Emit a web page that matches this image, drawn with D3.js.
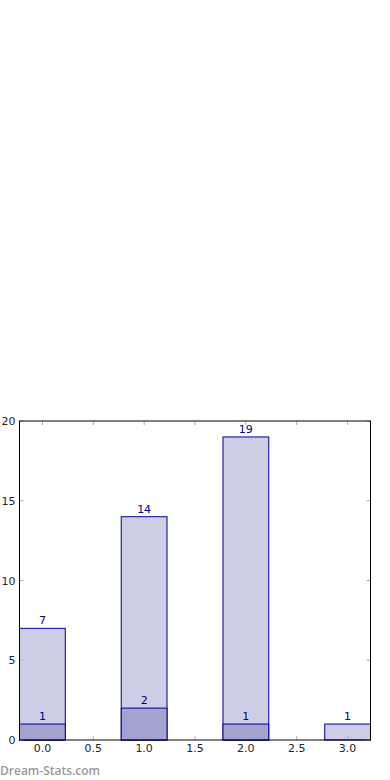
<!DOCTYPE html>
<html>
<head>
<meta charset="utf-8">
<script src="https://cdn.jsdelivr.net/npm/d3@7"></script>
<style>
  body { margin: 0; background: #fff; }
  svg { display: block; font-family: "DejaVu Sans", sans-serif; }
</style>
</head>
<body>
<div id="chart"></div>
<script>
// data
const positions = [0, 1, 2, 3];
const totals = [7, 14, 19, 1];
const subset = [1, 2, 1, 0];
const xTicks = [0, 0.5, 1, 1.5, 2, 2.5, 3];
const yTicks = [0, 5, 10, 15, 20];

const W = 390, H = 780;
const margin = { top: 421, right: 20, bottom: 40, left: 19.5 };
const width = 370.5 - margin.left;
const height = 740 - margin.top;
const barW = 0.45;

const svg = d3.select("#chart").append("svg")
  .attr("width", W)
  .attr("height", H);

const g = svg.append("g")
  .attr("transform", "translate(" + margin.left + "," + margin.top + ")");

const x = d3.scaleLinear().domain([-0.225, 3.225]).range([0, width]);
const y = d3.scaleLinear().domain([0, 20]).range([height, 0]);

// bars (total)
g.selectAll(".bar")
  .data(positions)
  .enter().append("rect")
    .attr("class", "bar")
    .attr("x", (d) => x(d - barW / 2))
    .attr("width", (d) => x(d + barW / 2) - x(d - barW / 2))
    .attr("y", (d, i) => y(totals[i]))
    .attr("height", (d, i) => height - y(totals[i]))
    .attr("fill", "#cdcde6")
    .attr("stroke", "#00008b")
    .attr("stroke-width", 1);

// bars (subset)
g.selectAll(".sub")
  .data(positions.filter((d, i) => subset[i] > 0))
  .enter().append("rect")
    .attr("class", "sub")
    .attr("x", (d) => x(d - barW / 2))
    .attr("width", (d) => x(d + barW / 2) - x(d - barW / 2))
    .attr("y", (d) => y(subset[d]))
    .attr("height", (d) => height - y(subset[d]))
    .attr("fill", "#a3a3d1")
    .attr("stroke", "#00008b")
    .attr("stroke-width", 1);

// value labels
g.selectAll(".labelTotal")
  .data(positions)
  .enter().append("text")
    .attr("class", "labelTotal")
    .attr("x", (d) => x(d))
    .attr("y", (d, i) => y(totals[i]) - 4)
    .attr("text-anchor", "middle")
    .attr("font-size", "11px")
    .attr("fill", "#00008b")
    .text((d, i) => totals[i]);

g.selectAll(".labelSub")
  .data(positions.filter((d, i) => subset[i] > 0))
  .enter().append("text")
    .attr("class", "labelSub")
    .attr("x", (d) => x(d))
    .attr("y", (d) => y(subset[d]) - 4)
    .attr("text-anchor", "middle")
    .attr("font-size", "11px")
    .attr("fill", "#00008b")
    .text((d) => subset[d]);

// inner tick marks
const tickCol = "#aaa";
g.selectAll(".xtickB").data(xTicks).enter().append("line")
  .attr("x1", (d) => x(d)).attr("x2", (d) => x(d))
  .attr("y1", height).attr("y2", height - 4)
  .attr("stroke", tickCol);
g.selectAll(".xtickT").data(xTicks).enter().append("line")
  .attr("x1", (d) => x(d)).attr("x2", (d) => x(d))
  .attr("y1", 0).attr("y2", 4)
  .attr("stroke", tickCol);
g.selectAll(".ytickL").data(yTicks).enter().append("line")
  .attr("x1", 0).attr("x2", 4)
  .attr("y1", (d) => y(d)).attr("y2", (d) => y(d))
  .attr("stroke", tickCol);
g.selectAll(".ytickR").data(yTicks).enter().append("line")
  .attr("x1", width).attr("x2", width - 4)
  .attr("y1", (d) => y(d)).attr("y2", (d) => y(d))
  .attr("stroke", tickCol);

// frame
g.append("rect")
  .attr("width", width)
  .attr("height", height)
  .attr("fill", "none")
  .attr("stroke", "#000")
  .attr("stroke-width", 1);

// tick labels
g.selectAll(".xlab").data(xTicks).enter().append("text")
  .attr("x", (d) => x(d))
  .attr("y", height + 12)
  .attr("text-anchor", "middle")
  .attr("font-size", "11px")
  .attr("fill", "#222")
  .text((d) => d.toFixed(1));

g.selectAll(".ylab").data(yTicks).enter().append("text")
  .attr("x", -4)
  .attr("y", (d) => y(d) + 4)
  .attr("text-anchor", "end")
  .attr("font-size", "11px")
  .attr("fill", "#222")
  .text((d) => d);

// watermark
svg.append("text")
  .attr("x", 0)
  .attr("y", 775)
  .attr("font-size", "12px")
  .attr("font-weight", "600")
  .attr("fill", "#999")
  .style("font-family", "'Open Sans', sans-serif")
  .text("Dream-Stats.com");
</script>
</body>
</html>
